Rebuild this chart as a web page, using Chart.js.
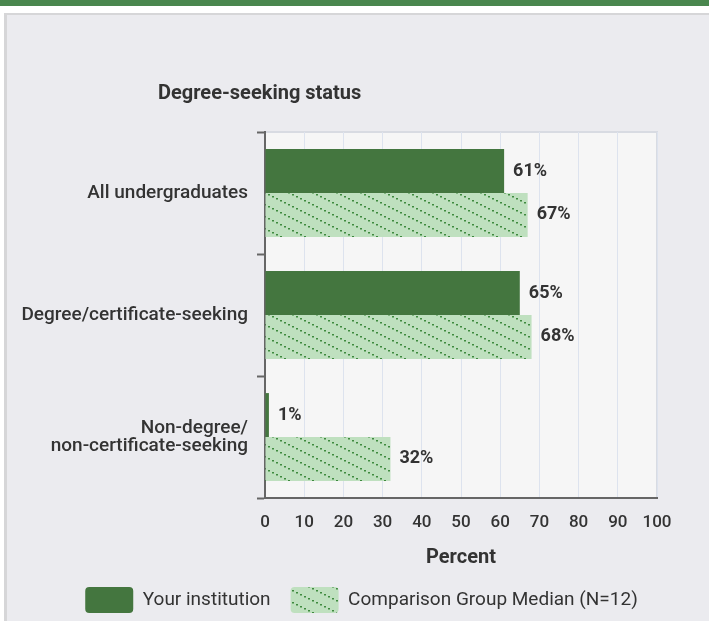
<!DOCTYPE html>
<html>
<head>
<meta charset="utf-8">
<script src="https://cdn.jsdelivr.net/npm/chart.js@4.4.0/dist/chart.umd.min.js"></script>
<style>
  html, body { margin: 0; padding: 0; background: #fff; }
  #wrap { position: relative; width: 709px; height: 621px; overflow: hidden; }
  #band { position: absolute; left: 0; top: 0; width: 709px; height: 6px; background: #4a874e; }
  #panel { position: absolute; left: 4px; top: 13px; width: 705px; height: 608px; background: #ebebef;
           border-left: 3px solid #d6d6d8; border-top: 2px solid #d6d6d8; box-sizing: border-box; }
  #chart { position: absolute; left: 0; top: 0; }
</style>
</head>
<body>
<div id="wrap">
  <div id="band"></div>
  <div id="panel"></div>
  <canvas id="chart" width="709" height="621"></canvas>
</div>
<script>
const chartTitle = 'Degree-seeking status';
const categories = ['All undergraduates', 'Degree/certificate-seeking', ['Non-degree/', 'non-certificate-seeking']];
const seriesNames = ['Your institution', 'Comparison Group Median (N=12)'];
const yourInstitution = [61, 65, 1];
const comparisonMedian = [67, 68, 32];
const xMin = 0, xMax = 100, xStep = 10;

const FONT = 'Roboto, "Liberation Sans", sans-serif';
const TEXT = '#333333';

// dotted diagonal hatch for the comparison bars
function makeHatch() {
  const c = document.createElement('canvas');
  c.width = 24; c.height = 12;
  const g = c.getContext('2d');
  g.fillStyle = '#bfe0bf';
  g.fillRect(0, 0, 24, 12);
  g.fillStyle = '#3f8a3f';
  for (let x = 0; x < 24; x += 4) {
    g.fillRect(x, x / 2, 2, 1.5);
  }
  return g.createPattern(c, 'repeat');
}
const hatch = makeHatch();

const plotBg = {
  id: 'plotBg',
  beforeDraw(chart) {
    const { ctx, chartArea: a } = chart;
    ctx.save();
    ctx.fillStyle = '#f6f6f6';
    ctx.fillRect(a.left, a.top, a.right - a.left, a.bottom - a.top);
    ctx.strokeStyle = '#d8dbe2';
    ctx.lineWidth = 2;
    ctx.strokeRect(a.left, a.top, a.right - a.left, a.bottom - a.top);
    ctx.restore();
  }
};

// legend sits a bit right of the canvas centre in the original
const legendShift = {
  id: 'legendShift',
  afterLayout(chart) {
    chart.legend.left += 33;
    chart.legend.right += 33;
  }
};

const titleText = {
  id: 'titleText',
  afterDraw(chart) {
    const ctx = chart.ctx;
    ctx.save();
    ctx.font = 'bold 20px ' + FONT;
    ctx.fillStyle = TEXT;
    ctx.textBaseline = 'middle';
    ctx.fillText(chartTitle, 158, 94);
    ctx.restore();
  }
};

const valueLabels = {
  id: 'valueLabels',
  afterDatasetsDraw(chart) {
    const ctx = chart.ctx;
    ctx.save();
    ctx.font = 'bold 18px ' + FONT;
    ctx.fillStyle = TEXT;
    ctx.textBaseline = 'middle';
    chart.data.datasets.forEach((ds, i) => {
      chart.getDatasetMeta(i).data.forEach((bar, j) => {
        ctx.fillText(ds.data[j] + '%', bar.x + 9, bar.y);
      });
    });
    ctx.restore();
  }
};

new Chart(document.getElementById('chart'), {
  type: 'bar',
  data: {
    labels: categories,
    datasets: [{
      label: seriesNames[0],
      data: yourInstitution,
      backgroundColor: '#44763f',
      borderWidth: 0
    }, {
      label: seriesNames[1],
      data: comparisonMedian,
      backgroundColor: hatch,
      borderWidth: 0
    }]
  },
  plugins: [plotBg, legendShift, titleText, valueLabels],
  options: {
    indexAxis: 'y',
    responsive: false,
    animation: false,
    devicePixelRatio: 1,
    categoryPercentage: 0.72,
    barPercentage: 1.0,
    layout: { padding: { top: 132, right: 52, left: 0, bottom: -2 } },
    scales: {
      x: {
        min: xMin, max: xMax,
        ticks: { stepSize: xStep, color: TEXT, font: { family: FONT, size: 17, weight: '500' }, padding: 15 },
        grid: { color: '#dde3ee', drawTicks: false },
        border: { color: '#666', width: 2 },
        title: { display: true, text: 'Percent', color: TEXT, font: { family: FONT, size: 20, weight: 'bold', lineHeight: 0.9 }, padding: { top: 4, bottom: 0 } },
        afterFit(scale) { scale.height = 69; }
      },
      y: {
        ticks: { color: TEXT, font: { family: FONT, size: 19, weight: '500', lineHeight: 0.93 }, padding: 9 },
        grid: { drawOnChartArea: false, drawTicks: true, tickLength: 8, tickColor: '#666', tickWidth: 2 },
        border: { color: '#666', width: 2 },
        afterFit(scale) { scale.width = 265; }
      }
    },
    plugins: {
      legend: {
        position: 'bottom',
        labels: {
          color: TEXT,
          font: { family: FONT, size: 19 },
          boxWidth: 48, boxHeight: 26,
          useBorderRadius: true, borderRadius: 4,
          padding: 20
        }
      },
      tooltip: { enabled: false }
    }
  }
});
</script>
</body>
</html>
